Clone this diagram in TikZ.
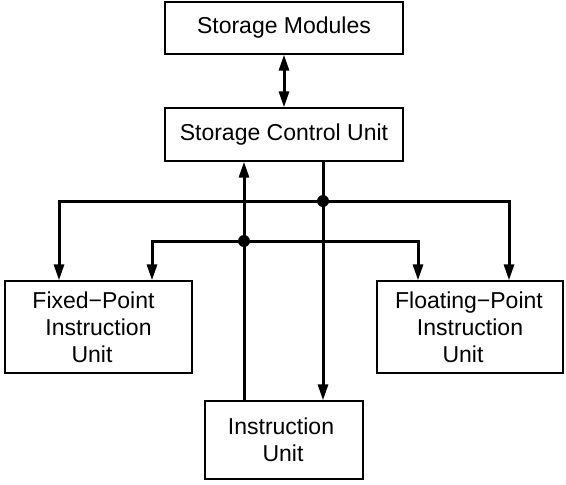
\documentclass[tikz,border=0pt]{standalone}
\usepackage{fontspec}
\setmainfont{Liberation Sans}
\usetikzlibrary{arrows.meta}
\tikzset{
  unitbox/.style={draw, line width=1.3pt, inner sep=0pt, align=center, font=\fontsize{23}{27}\selectfont},
  bus/.style={line width=3pt},
  busarrow/.style={line width=3pt, -{Triangle[length=16pt,width=10pt]}},
  dbarrow/.style={line width=3pt, {Triangle[length=16pt,width=10pt]}-{Triangle[length=16pt,width=10pt]}},
  junction/.style={circle, fill, inner sep=0pt, minimum size=12pt}
}
\begin{document}
\begin{tikzpicture}[x=1pt,y=-1pt]
\useasboundingbox (0,0) rectangle (566,485);
\node[unitbox, minimum width=238pt, minimum height=52pt] (sm) at (284,28) {Storage Modules};
\node[unitbox, minimum width=238pt, minimum height=53pt] (scu) at (284,134.5) {Storage Control Unit};
\node[unitbox, minimum width=187pt, minimum height=92pt] (fx) at (98.5,327) {Fixed−Point\hspace*{10pt}\\Instruction\hspace*{22pt}\\Unit\hspace*{13pt}};
\node[unitbox, minimum width=186pt, minimum height=92pt] (fl) at (470,327) {Floating−Point\hspace*{2pt}\\Instruction\hspace*{20pt}\\Unit\hspace*{14pt}};
\node[unitbox, minimum width=158pt, minimum height=78pt] (iu) at (284,440) {Instruction\hspace*{6pt}\\Unit\hspace*{2pt}};
\coordinate (xl) at (244,0);
\coordinate (xr) at (323,0);
\node[junction] (ja) at (323,201) {};
\node[junction] (jb) at (244,241) {};
\coordinate (fxa) at (59,0);
\coordinate (fxb) at (152,0);
\coordinate (fla) at (418,0);
\coordinate (flb) at (509,0);
\draw[dbarrow] (sm.south) -- (scu.north);
\draw[busarrow] (iu.north -| xl) -- (scu.south -| xl);
\draw[busarrow] (scu.south -| xr) -- (iu.north -| xr);
\draw[busarrow] (ja.center) -- (ja -| fxa) -- (fx.north -| fxa);
\draw[busarrow] (ja.center) -- (ja -| flb) -- (fl.north -| flb);
\draw[busarrow] (jb.center) -- (jb -| fxb) -- (fx.north -| fxb);
\draw[busarrow] (jb.center) -- (jb -| fla) -- (fl.north -| fla);
\end{tikzpicture}
\end{document}
